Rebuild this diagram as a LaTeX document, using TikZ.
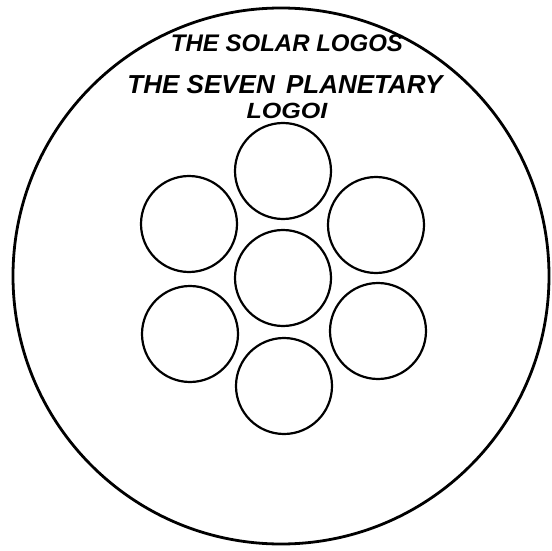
\documentclass[tikz,border=0pt]{standalone}
\usepackage{graphicx}
\usepackage{fontspec}
\setmainfont{Liberation Sans}
\begin{document}
\begin{tikzpicture}[x=1pt,y=-1pt,
  outer/.style={draw,line width=2.8pt},
  planet/.style={draw,line width=2.2pt,circle,minimum size=96pt,inner sep=0pt},
  label/.style={inner sep=0pt,anchor=base}]
\useasboundingbox (0,0) rectangle (552,551);
\node[draw=none,minimum size=0pt,inner sep=0pt] (sun) at (281,276) {};
\draw[outer] (sun) circle[radius=268];
\node[planet] (c) at (283,278) {};
\node[planet] (t) at (283,171) {};
\node[planet] (ul) at (189,224) {};
\node[planet] (ur) at (376,225) {};
\node[planet] (ll) at (190,334) {};
\node[planet] (lr) at (378,331) {};
\node[planet] (b) at (284,386) {};
\node[label,font=\fontsize{24}{24}\selectfont\bfseries\itshape] (solar) at (287,52) {THE SOLAR LOGOS};
\node[label,font=\fontsize{26}{26}\selectfont\bfseries\itshape] (seven) at (285,94) {THE SEVEN\hspace{4pt} PLANETARY};
\node[label,font=\fontsize{22}{22}\selectfont\bfseries\itshape] (logoi) at (287,118) {\scalebox{1.14}[1]{LOGOI}};
\end{tikzpicture}
\end{document}
